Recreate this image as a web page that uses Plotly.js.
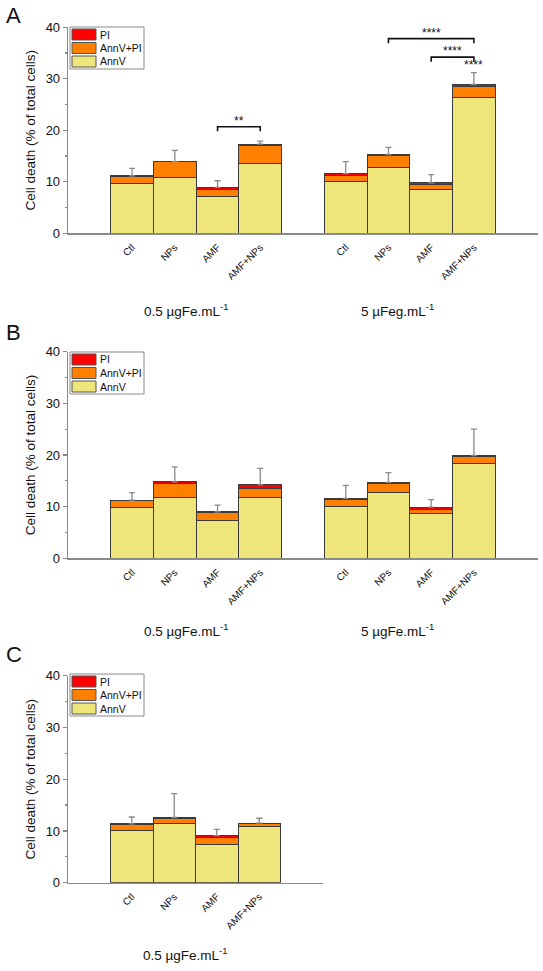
<!DOCTYPE html>
<html>
<head>
<meta charset="utf-8">
<script src="https://cdn.plot.ly/plotly-3.0.1.min.js"></script>
<style>html,body{margin:0;padding:0;background:#fff;}#chart{width:543px;height:971px;}</style>
</head>
<body>
<div id="chart"></div>
<script>
// ---------- DATA ----------
const categories = ['Ctl', 'NPs', 'AMF', 'AMF+NPs'];
const seriesNames = ['AnnV', 'AnnV+PI', 'PI'];

// Panel A (group 1 = 0.5 µgFe/mL, group 2 = 5 µgFe/mL)
const A_annV   = [9.7, 10.9, 7.2, 13.6,   10.0, 12.8, 8.6, 26.3];
const A_annVPI = [1.4, 2.95, 1.4, 3.4,    1.3, 2.3, 0.8, 2.3];
const A_PI     = [0.05, 0.05, 0.3, 0.3,   0.3, 0.2, 0.4, 0.3];
const A_sd     = [1.45, 2.2, 1.3, 0.6,    2.3, 1.4, 1.6, 2.3];
const A_groups = ['0.5 µgFe.mL<sup>-1</sup>', '5 µFeg.mL<sup>-1</sup>'];

// Panel B
const B_annV   = [9.8, 11.8, 7.35, 11.8,  10.1, 12.8, 8.7, 18.4];
const B_annVPI = [1.4, 2.7, 1.45, 1.7,    1.2, 1.65, 0.8, 1.3];
const B_PI     = [0.05, 0.3, 0.2, 0.7,    0.3, 0.25, 0.4, 0.2];
const B_sd     = [1.45, 2.9, 1.3, 3.2,    2.5, 1.9, 1.45, 5.1];
const B_groups = ['0.5 µgFe.mL<sup>-1</sup>', '5 µgFe.mL<sup>-1</sup>'];

// Panel C
const C_annV   = [10.0, 11.5, 7.4, 10.8];
const C_annVPI = [1.3, 0.95, 1.3, 0.55];
const C_PI     = [0.05, 0.15, 0.4, 0.15];
const C_sd     = [1.35, 4.6, 1.2, 0.95];
const C_groups = ['0.5 µgFe.mL<sup>-1</sup>'];

// Significance (panel A): from/to bar index (8-bar order), bracket level, label
const A_sigFrom  = [2, 5, 6];
const A_sigTo    = [3, 7, 7];
const A_sigY     = [20.7, 37.8, 34.2];
const A_sigLabel = ['**', '****', '****'];
const A_sigOverBar = [7];
const A_sigOverLabel = ['****'];

// ---------- STYLE ----------
const colors = {'AnnV': '#EEE67A', 'AnnV+PI': '#FF8000', 'PI': '#FF0000'};
const FONT = 'Arial, "Liberation Sans", sans-serif';
const pos8 = [1, 2, 3, 4, 6, 7, 8, 9];
const pos4 = [1, 2, 3, 4];
const H = 971, W = 543;
function py(px) { return (H - px) / H; }
function pxx(px) { return px / W; }

const traces = [];
function addPanel(ax, pos, annV, annVPI, pi, sd) {
  const xa = 'x' + (ax === 1 ? '' : ax), ya = 'y' + (ax === 1 ? '' : ax);
  const vals = {'AnnV': annV, 'AnnV+PI': annVPI, 'PI': pi};
  seriesNames.forEach(function (name) {
    traces.push({
      type: 'bar', x: pos, y: vals[name], name: name, xaxis: xa, yaxis: ya,
      width: 1, marker: {color: colors[name], line: {color: '#3a3a3a', width: 1}},
      showlegend: false, hoverinfo: 'y'
    });
  });
  const totals = annV.map(function (v, i) { return v + annVPI[i] + pi[i]; });
  traces.push({
    type: 'scatter', mode: 'markers', x: pos, y: totals, xaxis: xa, yaxis: ya,
    marker: {size: 1, opacity: 0}, showlegend: false, hoverinfo: 'skip',
    error_y: {type: 'data', symmetric: false, array: sd, arrayminus: sd.map(function () { return 0; }),
      color: '#8a8a8a', thickness: 1.3, width: 3}
  });
}
addPanel(1, pos8, A_annV, A_annVPI, A_PI, A_sd);
addPanel(2, pos8, B_annV, B_annVPI, B_PI, B_sd);
addPanel(3, pos4, C_annV, C_annVPI, C_PI, C_sd);

function yAxis(top, bottom, anchor) {
  return {
    domain: [py(bottom), py(top)], range: [0, 40], tickvals: [0, 10, 20, 30, 40], anchor: anchor,
    showline: true, linecolor: '#8a8a8a', linewidth: 1.3, ticks: 'outside', ticklen: 4,
    tickcolor: '#8a8a8a', tickwidth: 1.2, showgrid: false, zeroline: false,
    tickfont: {family: FONT, size: 13, color: '#111'},
    minor: {dtick: 5, tick0: 0, ticks: 'outside', ticklen: 2, tickcolor: '#8a8a8a', showgrid: false},
    title: {text: 'Cell death (% of total cells)', font: {family: FONT, size: 13.5, color: '#111'}, standoff: 7},
    fixedrange: true, automargin: false
  };
}
function xAxis(right, pos, nslots, anchor) {
  return {
    domain: [pxx(68), pxx(right)], range: [-0.5, nslots - 0.5], anchor: anchor,
    tickvals: pos, ticktext: pos.map(function (p, i) { return categories[i % 4]; }),
    tickangle: -45, ticks: '', showline: true, linecolor: '#8a8a8a', linewidth: 1.3,
    showgrid: false, zeroline: false, ticklabelstandoff: 3,
    tickfont: {family: FONT, size: 10, color: '#111'}, fixedrange: true, automargin: false
  };
}

const annotations = [];
const shapes = [];

// custom legend (reversed order: PI on top)
function legendBox(T) {
  shapes.push({type: 'rect', xref: 'paper', yref: 'paper', x0: pxx(70), x1: pxx(144), y0: py(T + 42), y1: py(T),
    line: {color: '#8a8a8a', width: 1}, fillcolor: '#fff', layer: 'above'});
  seriesNames.slice().reverse().forEach(function (name, i) {
    const top = T + 2 + 13.5 * i, bot = T + 13 + 13.5 * i;
    shapes.push({type: 'rect', xref: 'paper', yref: 'paper', x0: pxx(72), x1: pxx(96), y0: py(bot), y1: py(top),
      line: {color: '#555', width: 1}, fillcolor: colors[name], layer: 'above'});
    annotations.push({text: name, xref: 'paper', yref: 'paper', x: pxx(98), y: py((top + bot) / 2),
      xanchor: 'left', yanchor: 'middle', showarrow: false, font: {family: FONT, size: 10.5, color: '#111'}});
  });
}
legendBox(27); legendBox(352); legendBox(674);

function letter(t, yPx) {
  annotations.push({text: t, xref: 'paper', yref: 'paper', x: pxx(4), y: py(yPx), xanchor: 'left', yanchor: 'middle',
    showarrow: false, font: {family: FONT, size: 22, color: '#111'}});
}
letter('A', 16); letter('B', 332); letter('C', 654);

function groupLabel(t, xref, xData, yPx) {
  annotations.push({text: t, xref: xref, yref: 'paper', x: xData, y: py(yPx), xanchor: 'center', yanchor: 'middle',
    showarrow: false, font: {family: FONT, size: 13.5, color: '#111'}});
}
groupLabel(A_groups[0], 'x', 2.25, 310); groupLabel(A_groups[1], 'x', 7.2, 310);
groupLabel(B_groups[0], 'x2', 2.25, 630); groupLabel(B_groups[1], 'x2', 7.2, 630);
groupLabel(C_groups[0], 'x3', 2.25, 954);

// significance brackets (panel A)
A_sigFrom.forEach(function (f, i) {
  const x1 = pos8[f], x2 = pos8[A_sigTo[i]], y = A_sigY[i];
  shapes.push({type: 'path', xref: 'x', yref: 'y', path: 'M' + x1 + ',' + (y - 0.9) + ' L' + x1 + ',' + y + ' L' + x2 + ',' + y + ' L' + x2 + ',' + (y - 0.9),
    line: {color: '#111', width: 1.6}});
  annotations.push({text: A_sigLabel[i], xref: 'x', yref: 'y', x: (x1 + x2) / 2, y: y, yanchor: 'bottom', yshift: -3,
    showarrow: false, font: {family: FONT, size: 12, color: '#111'}});
});
A_sigOverBar.forEach(function (b, i) {
  const top = A_annV[b] + A_annVPI[b] + A_PI[b] + A_sd[b];
  annotations.push({text: A_sigOverLabel[i], xref: 'x', yref: 'y', x: pos8[b], y: top, yanchor: 'bottom', yshift: -1,
    showarrow: false, font: {family: FONT, size: 12, color: '#111'}});
});

const layout = {
  width: W, height: H, margin: {l: 0, r: 0, t: 0, b: 0},
  paper_bgcolor: '#fff', plot_bgcolor: 'rgba(0,0,0,0)',
  barmode: 'stack', bargap: 0, showlegend: false,
  font: {family: FONT, color: '#111'},
  xaxis: xAxis(538, pos8, 11, 'y'),
  yaxis: yAxis(27.3, 233.3, 'x'),
  xaxis2: xAxis(538, pos8, 11, 'y2'),
  yaxis2: yAxis(351.7, 558.3, 'x2'),
  xaxis3: xAxis(323, pos4, 6, 'y3'),
  yaxis3: yAxis(675.7, 882.7, 'x3'),
  annotations: annotations, shapes: shapes
};

Plotly.newPlot('chart', traces, layout, {displayModeBar: false, staticPlot: true});
</script>
</body>
</html>
